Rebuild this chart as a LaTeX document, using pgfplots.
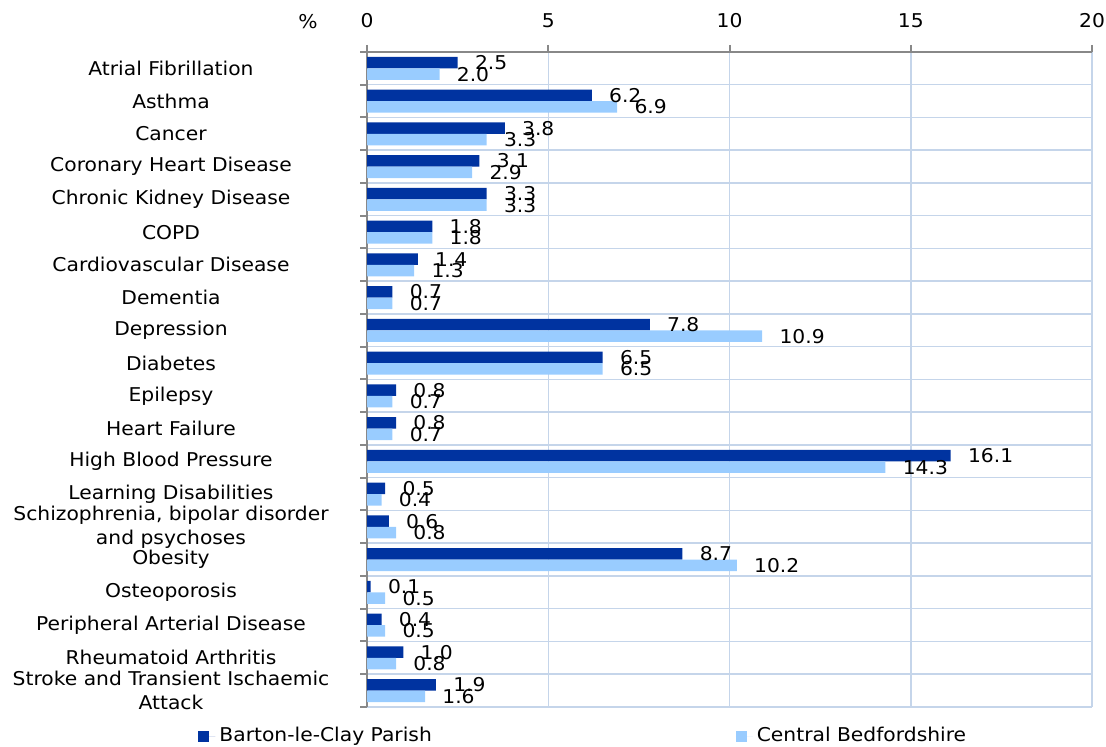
\documentclass[border=0pt]{standalone}
\usepackage{pgfplots}
\pgfplotsset{compat=1.18}
\usepackage{pgfplotstable}
\usepackage{fontspec}
\setmainfont{DejaVu Sans}[FakeStretch=1.067]
\definecolor{barDark}{RGB}{0,51,160}
\definecolor{barLight}{RGB}{153,204,255}
\definecolor{gridBlue}{RGB}{197,213,234}
\definecolor{axisGray}{RGB}{136,136,136}

% prevalence (%) per condition; pos 19 = top row
\pgfplotstableread{
pos parish central
19 2.5 2.0
18 6.2 6.9
17 3.8 3.3
16 3.1 2.9
15 3.3 3.3
14 1.8 1.8
13 1.4 1.3
12 0.7 0.7
11 7.8 10.9
10 6.5 6.5
9  0.8 0.7
8  0.8 0.7
7  16.1 14.3
6  0.5 0.4
5  0.6 0.8
4  8.7 10.2
3  0.1 0.5
2  0.4 0.5
1  1.0 0.8
0  1.9 1.6
}\prevdata

\begin{document}
\begin{tikzpicture}[font=\fontsize{9.5}{12}\selectfont]
\useasboundingbox (0,0) rectangle (553pt,373.5pt);
\begin{axis}[
  at={(183.5pt,20pt)}, anchor=south west,
  scale only axis, width=362.5pt, height=327.5pt,
  xbar, bar width=0.35,
  xmin=0, xmax=20, ymin=-0.5, ymax=19.5,
  axis x line*=top, axis y line*=left,
  axis line style={axisGray, line width=1pt, -},
  xtick={0,5,10,15,20}, xtick pos=top, xticklabel pos=top,
  xmajorgrids,
  ytick={-0.5,0.5,...,19.5}, yticklabels={}, ytick pos=left,
  ymajorgrids,
  grid style={gridBlue, line width=0.75pt},
  tick align=outside, major tick length=3.5pt,
  tick style={axisGray, line width=1pt},
  xticklabel style={yshift=5pt},
  /pgf/number format/assume math mode=true,
  extra y ticks={0,...,19},
  extra y tick labels={
    {Stroke and Transient Ischaemic\\Attack},
    Rheumatoid Arthritis,
    Peripheral Arterial Disease,
    Osteoporosis,
    Obesity,
    {Schizophrenia, bipolar disorder\\and psychoses},
    Learning Disabilities,
    High Blood Pressure,
    Heart Failure,
    Epilepsy,
    Diabetes,
    Depression,
    Dementia,
    Cardiovascular Disease,
    COPD,
    Chronic Kidney Disease,
    Coronary Heart Disease,
    Cancer,
    Asthma,
    Atrial Fibrillation},
  extra y tick style={grid=none, tick style={draw=none},
    yticklabel style={anchor=center, align=center, xshift=-94.5pt}},
  point meta=x,
  nodes near coords={\pgfmathprintnumber[fixed,fixed zerofill,precision=1]{\pgfplotspointmeta}},
  every node near coord/.append style={anchor=west, inner sep=0pt, xshift=8.5pt, text=black},
  legend columns=2,
  legend style={at={(-0.233,-0.0443)}, anchor=west, draw=none, inner sep=0pt,
    /tikz/every even column/.append style={column sep=150pt}},
  legend image code/.code={\fill[#1, draw=none] (0pt,-2.75pt) rectangle (5.5pt,2.75pt);
    \path (0pt,0pt) -- (8.5pt,0pt);},
]
\addplot[fill=barDark, draw=none, bar shift=0.175] table[x=parish, y=pos] {\prevdata};
\addlegendentry{Barton-le-Clay Parish}
\addplot[fill=barLight, draw=none, bar shift=-0.175] table[x=central, y=pos] {\prevdata};
\addlegendentry{Central Bedfordshire}
\end{axis}
\node at (154pt,362.5pt) {\%};
\end{tikzpicture}
\end{document}
